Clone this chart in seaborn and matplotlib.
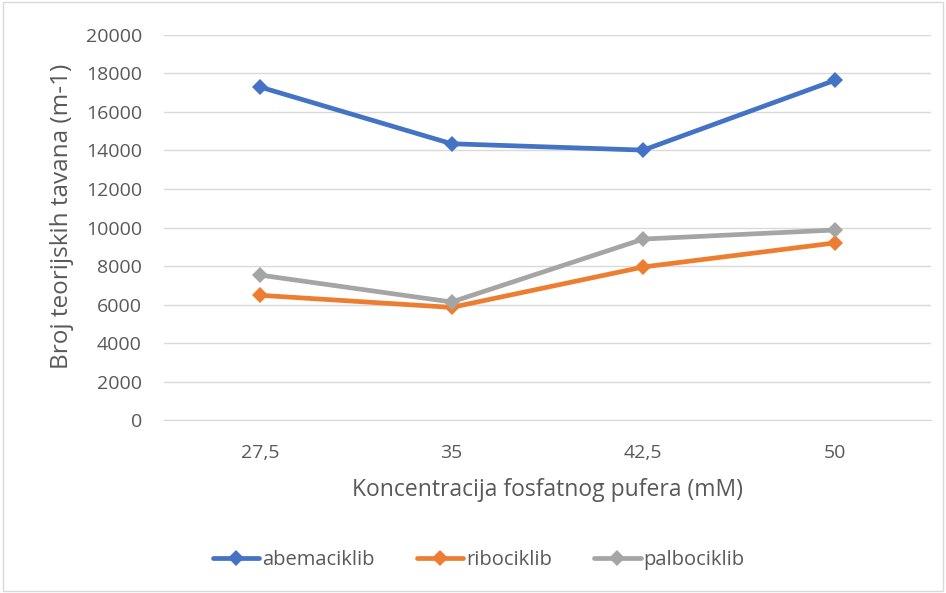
import matplotlib
matplotlib.use("Agg")
import matplotlib.pyplot as plt
import seaborn as sns
import pandas as pd
from matplotlib.patches import Rectangle

# data
koncentracija = ['27,5', '35', '42,5', '50']
abemaciklib = [17300, 14350, 14020, 17650]
ribociklib = [6480, 5850, 7950, 9200]
palbociklib = [7530, 6130, 9400, 9870]
serije = ['abemaciklib', 'ribociklib', 'palbociklib']
boje = ['#4472C4', '#ED7D31', '#A5A5A5']

rows = []
for naziv, vals in zip(serije, [abemaciklib, ribociklib, palbociklib]):
    for k, v in zip(koncentracija, vals):
        rows.append({'konc': k, 'N': v, 'serija': naziv})
df = pd.DataFrame(rows)

sns.set_style('white')
plt.rcParams['font.family'] = ['Open Sans', 'DejaVu Sans']
txt = '#595959'

fig = plt.figure(figsize=(9.46, 5.93), dpi=100)
ax = fig.add_axes([0.1734, 0.2917, 0.8106, 0.6493])

sns.lineplot(data=df, x='konc', y='N', hue='serija', hue_order=serije,
             palette=boje, style='serija', markers=['D', 'D', 'D'], dashes=False,
             linewidth=3.4, markersize=8, markeredgewidth=0, ax=ax, legend=False, sort=False)

ax.set_xlim(-0.5, 3.5)
ax.set_ylim(0, 20000)
ax.set_yticks(range(0, 20001, 2000))
ax.grid(axis='y', color='#D9D9D9', linewidth=1)
ax.set_axisbelow(True)
for s in ['top', 'right', 'left']:
    ax.spines[s].set_visible(False)
ax.spines['bottom'].set_color('#D9D9D9')
ax.tick_params(axis='both', length=0, labelsize=14, colors=txt)
ax.tick_params(axis='x', pad=17)
ax.tick_params(axis='y', pad=16)
ax.set_xlabel('Koncentracija fosfatnog pufera (mM)', fontsize=16.5, color=txt, labelpad=12)
ax.set_ylabel('Broj teorijskih tavana (m-1)', fontsize=17.5, color=txt, labelpad=6)
ax.yaxis.set_label_coords(-0.118, 0.53)

handles = [plt.Line2D([], [], color=c, linewidth=3.4, marker='D', markersize=8,
                      markeredgewidth=0) for c in boje]
fig.legend(handles, serije, loc='center', bbox_to_anchor=(0.506, 0.056), ncol=3,
           frameon=False, fontsize=14.5, labelcolor=txt, handlelength=2.3,
           handletextpad=0.15, columnspacing=2.1)

fig.patches.append(Rectangle((0.003, 0.003), 0.994, 0.994, transform=fig.transFigure,
                             fill=False, edgecolor='#D9D9D9', linewidth=1))

fig.savefig('out.png', dpi=100)
